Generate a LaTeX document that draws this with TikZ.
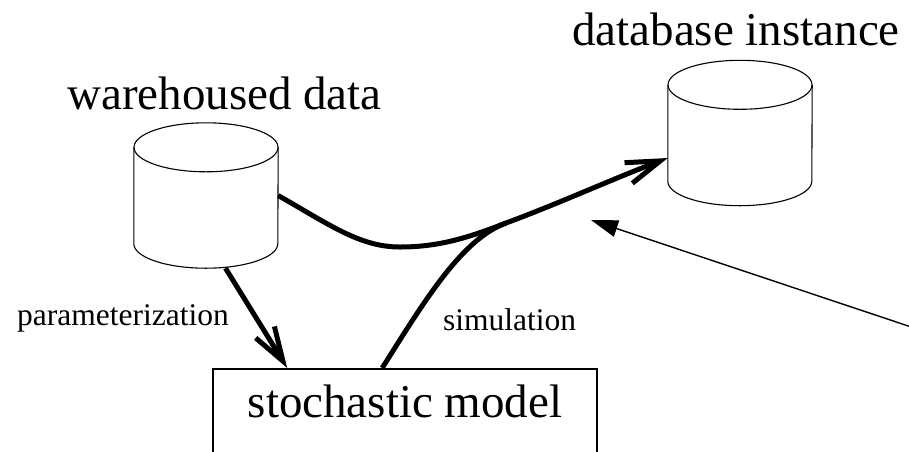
\documentclass[tikz,border=0pt]{standalone}
\usepackage{fontspec}
\setmainfont{Liberation Serif}
\usetikzlibrary{arrows.meta}
\tikzset{
  title/.style={font=\fontsize{47}{56}\selectfont, inner sep=0pt, anchor=base west},
  lbl/.style={font=\fontsize{31.5}{38}\selectfont, inner sep=0pt, anchor=base west},
  dbbody/.style={rectangle, minimum width=144pt, minimum height=145pt, inner sep=0pt},
  dbline/.style={line width=1.1pt},
  modelbox/.style={rectangle, draw, line width=1.6pt, minimum width=384pt, inner sep=0pt, anchor=north, text height=49pt, text depth=100pt, font=\fontsize{47}{56}\selectfont},
  flow/.style={line width=5pt, -{Straight Barb[length=34pt,width=22pt]}},
  flowline/.style={line width=5pt},
  hint/.style={line width=1.4pt, -{Triangle[length=27pt,width=17pt]}},
}
\begin{document}
\begin{tikzpicture}[x=1pt,y=-1pt]
  \useasboundingbox (0,0) rectangle (909,451);
  \clip (0,0) rectangle (909,451);
  % stores
  \node[dbbody] (wh) at (206,195.5) {};
  \node[dbbody] (db) at (740,133) {};
  \foreach \n in {wh,db}{
    \draw[dbline] ([yshift=-24.5pt]\n.north) ellipse [x radius=72pt, y radius=24.5pt];
    \draw[dbline] ([yshift=-24.5pt]\n.north west) -- ([yshift=24.5pt]\n.south west)
      arc [start angle=180, end angle=360, x radius=72pt, y radius=24.5pt]
      -- ([yshift=-24.5pt]\n.north east);
  }
  \node[title] (whtitle) at (67,109) {warehoused data};
  \node[title] (dbtitle) at (572,45) {database instance};
  % model
  \node[modelbox] (model) at (405,368) {stochastic model};
  \coordinate (bend) at (400,247);
  \coordinate (merge) at (506,223);
  \coordinate (src) at (940,336.6);
  \coordinate (tgt) at (591,220);
  % flows
  \draw[flow] (wh.-75) -- ([xshift=75pt]model.north west);
  \node[lbl] (param) at (17,325) {parameterization};
  \draw[flow] (wh.east) .. controls (330,225) and (360,247) .. (bend)
    .. controls (440,247) and (470,237) .. (merge)
    .. controls (560,203) and (610,180) .. ([yshift=-25pt]db.west);
  \draw[flowline] ([xshift=170pt]model.north west) .. controls (425,300) and (462,239) .. (merge);
  \node[lbl] (sim) at (443,330) {simulation};
  \draw[hint] (src) -- (tgt);
\end{tikzpicture}
\end{document}
